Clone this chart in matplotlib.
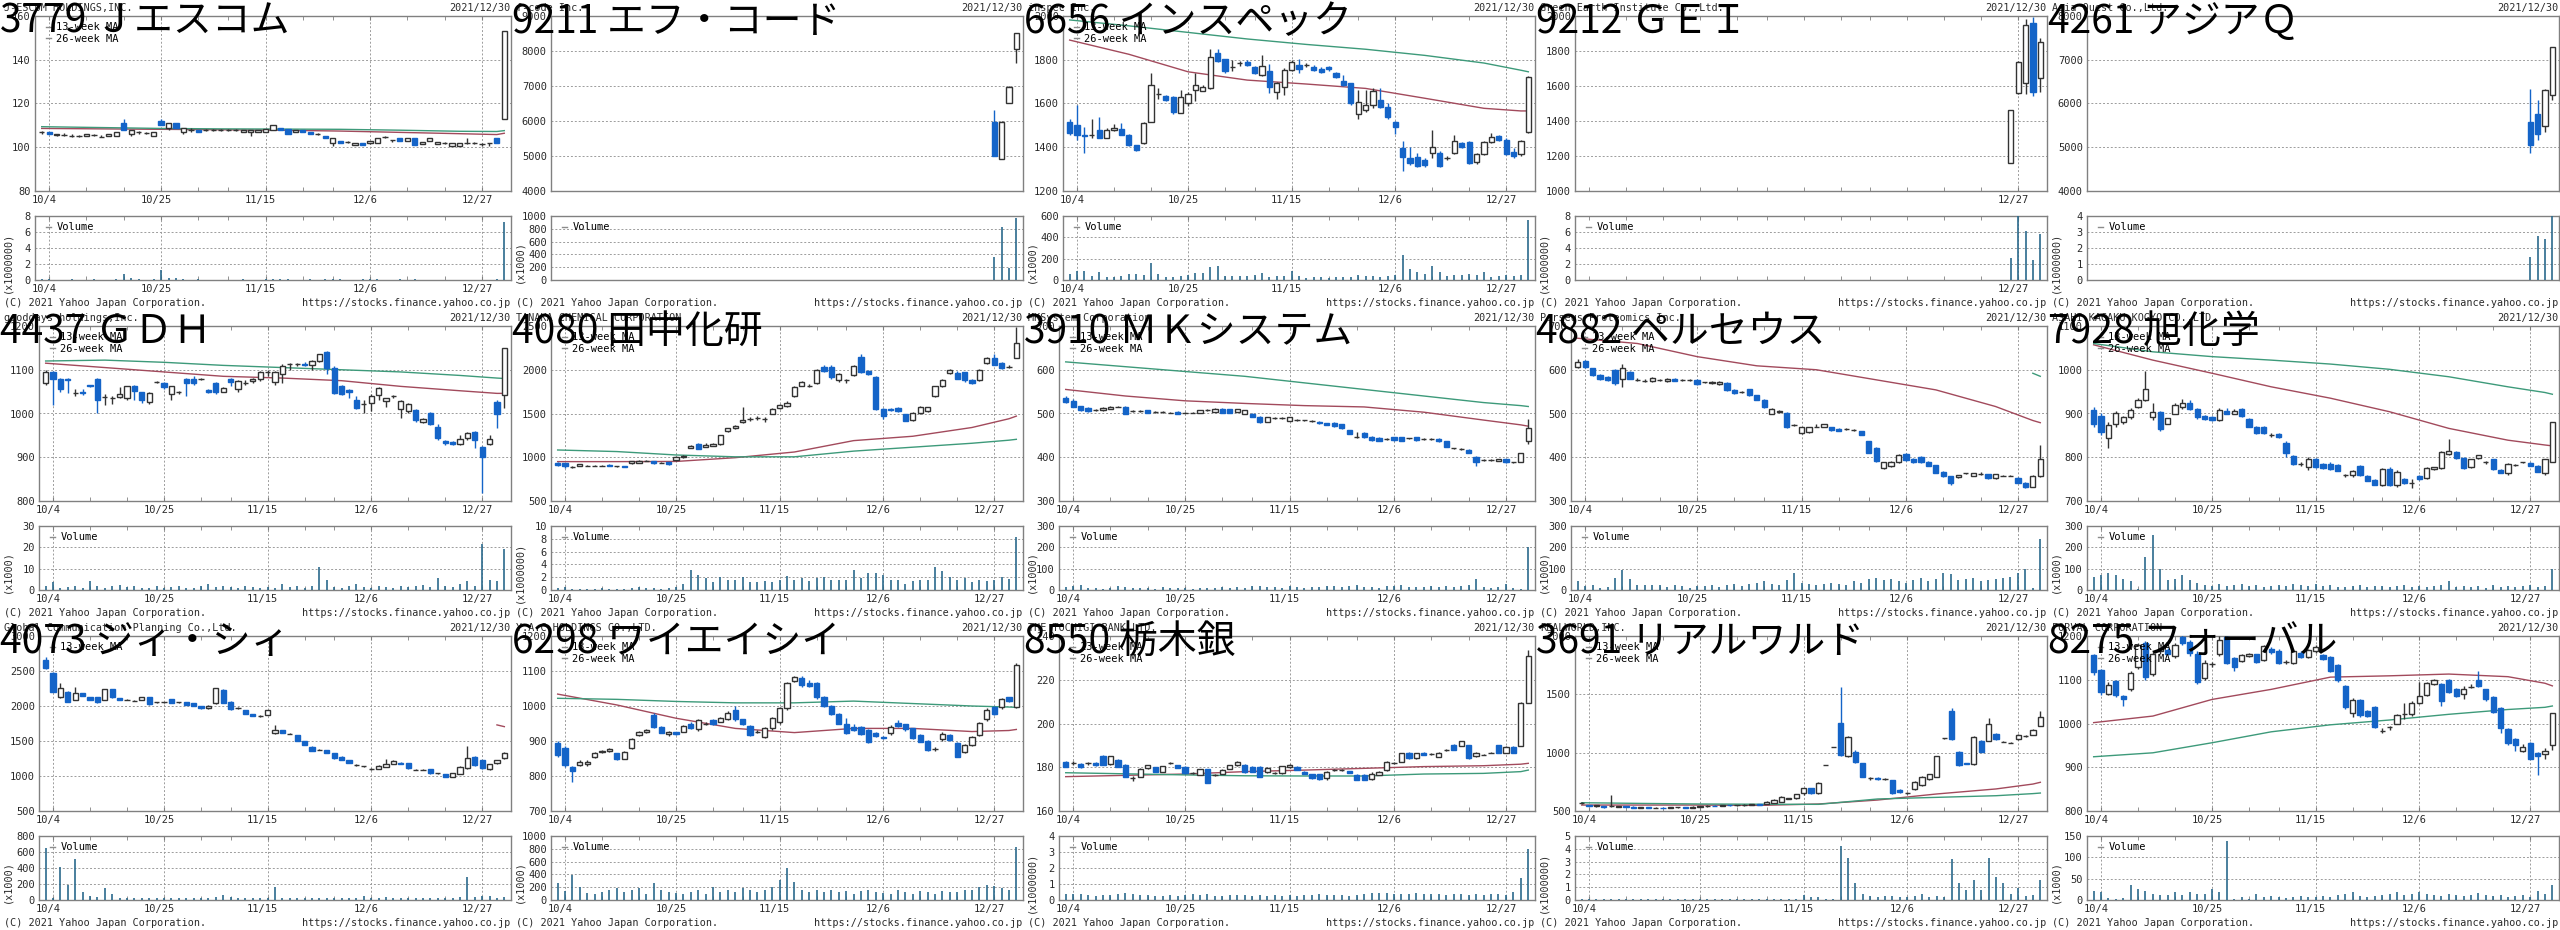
import numpy as np
import matplotlib
matplotlib.use('Agg')
import matplotlib.pyplot as plt
from matplotlib.lines import Line2D
from matplotlib.transforms import ScaledTranslation

plt.rcParams['font.family'] = ['DejaVu Sans Mono']
plt.rcParams['font.size'] = 7.3

# trading-day index: 0 = 10/1 ... 62 = 12/30
DATE_TICKS = [1, 16, 30, 44, 59]
DATE_LABELS = ['10/4', '10/25', '11/15', '12/6', '12/27']
WEEK_STARTS = [1, 6, 11, 16, 21, 25, 30, 35, 39, 44, 49, 54, 59]
MA_DAYS = [0, 8, 16, 24, 32, 40, 48, 56, 61, 62]
NAN = float('nan')

# ---- 3779 Jエスコム (o, h, l, c)
jescom = [(107,107.5,106,107),(107,107,106,106),(105.5,106,105,106),(105.5,106.5,105,105.5),(105,106,104.5,105),
    (105,105.5,104.5,105),(105,106,105,106),(105.5,106,105,105.5),(104.8,105.5,104.5,104.8),(105,106,105,106),
    (105,107,105,107),(111,113,108,108),(106,108,105,108),(107,107.5,106,107),(106.5,107,106,106.5),
    (105,107,105,107),(112,113,110,110),(109,111,108,111),(111,111,109,109),(107,109,106,109),
    (108,109,107,108),(108,108,107,107),(108,108.5,107.5,108),(108,108.5,107.5,108),(108,108.5,107.5,108),
    (108,108.5,107.5,108),(108,108.5,107.5,108),(107,108,107,108),(107,108,105,108),(107,108,107,108),
    (107,108.5,107,108.5),(108,110,108,110),(109,109,108,108),(108.5,108.5,106,106),(107,108,107,108),
    (108,108,107,107),(107,107,106,106),(106,106.5,105.5,106),(105,105,104,104),(102,104,100.6,104),
    (103,103,102,102),(102.6,103,102,102.6),(101,101.8,101,101.8),(101.8,101.8,101,101),(101.8,103,101.5,103),
    (102,104,102,104),(104.5,105,104,104.5),(103.3,103.5,102.5,103.3),(104,104,103,103),(103,104,103,104),
    (104,104,101,101),(101.3,102.6,101.3,102.6),(103,104,103,104),(101.5,102.6,101.5,102.6),(101.8,102.5,101.5,101.8),
    (100.7,101.8,100.7,101.8),(100.7,101.8,100.7,101.8),(101.8,104,101.5,101.8),(101.8,102.5,101.5,101.8),(101.3,102,100.5,101.3),
    (101.8,101.8,100.5,101.8),(104,104,102,102),(113,153,113,153)]
jescom_vol = [.1,.15,.05,.05,.1,.05,.05,.1,.05,.05, .1,.8,.2,.1,.05,.1,1.3,.3,.2,.1,
    .05,.1,.05,.05,.05,.05,.05,.1,.05,.05, .1,.15,.1,.15,.05,.05,.1,.05,.1,.15,
    .1,.05,.05,.1,.1,.1,.05,.05,.1,.05, .15,.05,.05,.05,.05,.05,.05,.05,.05,.05, .05,.1,7.3]
jescom_ma13 = [108.6,108.4,108.2,108,107.8,107.4,106.8,106.2,105.8,106.4]
jescom_ma26 = [109.4,109.0,108.6,108.4,108.3,108.2,107.8,107.3,107.2,107.6]

# ---- 9211 エフ・コード (listed 12/27)
fcode = [(5980,6310,5000,5000),(4910,6000,4900,5980),(6500,6990,6500,6980),(8050,8500,7650,8500)]
fcode_vol = [365,833,193,964]

# ---- 6656 インスペック
inspec = [(1517,1528,1458,1467),(1500,1593,1433,1458),(1455,1494,1372,1452),(1456,1530,1440,1456),(1479,1540,1440,1444),
    (1444,1490,1440,1477),(1480,1505,1475,1490),(1482,1509,1455,1458),(1456,1460,1405,1409),(1410,1412,1385,1387),
    (1418,1515,1415,1509),(1517,1740,1515,1683),(1643,1670,1620,1643),(1633,1640,1612,1616),(1631,1635,1550,1561),
    (1557,1660,1555,1631),(1601,1654,1590,1643),(1662,1740,1610,1685),(1659,1685,1655,1677),(1669,1850,1665,1814),
    (1832,1850,1790,1796),(1802,1805,1740,1750),(1768,1800,1750,1768),(1784,1795,1770,1784),(1790,1800,1770,1775),
    (1768,1770,1735,1741),(1729,1820,1725,1773),(1749,1780,1650,1677),(1654,1700,1620,1692),(1674,1760,1640,1753),
    (1753,1800,1750,1791),(1775,1805,1740,1759),(1775,1785,1765,1775),(1768,1775,1750,1753),(1758,1765,1740,1746),
    (1768,1770,1750,1756),(1741,1745,1715,1723),(1703,1730,1680,1683),(1692,1695,1595,1601),(1550,1660,1527,1608),
    (1570,1660,1560,1592),(1592,1670,1580,1657),(1616,1670,1580,1586),(1586,1600,1530,1537),(1517,1520,1460,1491),
    (1395,1430,1290,1357),(1349,1400,1320,1326),(1354,1375,1310,1314),(1342,1350,1310,1317),(1375,1478,1350,1400),
    (1372,1385,1310,1316),(1349,1360,1340,1349),(1375,1455,1370,1430),(1420,1425,1395,1400),(1425,1430,1325,1329),
    (1331,1375,1325,1369),(1369,1430,1365,1425),(1425,1465,1420,1445),(1450,1455,1430,1435),(1433,1440,1365,1368),
    (1380,1395,1350,1360),(1368,1432,1362,1430),(1471,1727,1465,1723)]
inspec_vol = [56,87,87,40,78,30,30,37,56,56, 47,162,56,30,30,37,47,62,62,118,
    134,37,37,37,37,47,62,30,37,37, 87,37,20,25,30,20,30,25,30,47,
    37,40,30,35,47,234,100,75,56,134, 78,37,47,47,56,47,78,30,37,47, 37,47,562]
inspec_ma13 = [1890,1825,1745,1707,1689,1669,1624,1578,1566,1566]
inspec_ma26 = [1982,1955,1925,1895,1870,1848,1820,1785,1752,1745]

# ---- 9212 GEI (listed 12/24)
gei = [(1158,1463,1158,1463),(1560,1740,1555,1735),(1615,1981,1554,1949),(1958,1996,1545,1566),(1644,1872,1568,1850)]
gei_vol = [2.7,9.5,6.1,2.5,5.8]

# ---- 4261 アジアQ (listed 12/27)
asiaq = [(5585,6324,4876,5052),(5752,6080,5166,5295),(5494,6330,5356,6309),(6194,7300,6080,7284)]
asiaq_vol = [1.46,2.75,2.58,4.0]

# ---- 4437 GDH
gdh = [(1070,1100,1065,1094),(1094,1098,1019,1080),(1080,1082,1050,1056),(1080,1082,1046,1076),(1048,1056,1040,1048),
    (1050,1055,1042,1046),(1065,1066,1060,1062),(1080,1082,1000,1031),(1038,1045,1020,1038),(1036,1040,1022,1036),
    (1037,1060,1035,1044),(1035,1063,1030,1063),(1064,1066,1030,1051),(1049,1050,1025,1032),(1027,1050,1022,1048),
    (1073,1075,1070,1073),(1070,1073,1055,1060),(1045,1063,1030,1063),(1049,1052,1045,1049),(1078,1080,1040,1069),
    (1078,1085,1065,1069),(1078,1080,1076,1078),(1054,1056,1046,1049),(1069,1072,1045,1050),(1050,1060,1048,1059),
    (1078,1080,1062,1073),(1057,1076,1050,1074),(1070,1076,1066,1070),(1074,1080,1070,1078),(1080,1098,1075,1094),
    (1094,1100,1085,1094),(1072,1098,1065,1094),(1090,1112,1070,1109),(1113,1116,1100,1113),(1113,1116,1108,1113),
    (1114,1118,1108,1111),(1111,1122,1100,1120),(1120,1137,1118,1135),(1140,1142,1090,1103),(1105,1108,1045,1048),
    (1064,1066,1043,1045),(1053,1056,1036,1050),(1032,1040,1010,1012),(1022,1030,1000,1022),(1025,1045,1005,1040),
    (1042,1060,1030,1058),(1029,1036,1015,1035),(1040,1042,1036,1040),(1010,1030,990,1029),(1005,1025,1000,1022),
    (1008,1010,980,985),(981,990,978,988),(1002,1004,974,976),(968,975,940,945),(938,940,928,932),
    (934,936,928,930),(930,950,928,942),(943,958,940,956),(958,960,920,939),(924,926,819,900),
    (930,950,928,941),(1027,1030,966,998),(1042,1149,1012,1149)]
gdh_vol = [2,3.9,1,1.5,2,1,4.4,2,1,2, 2.5,1.5,2,1,1,2,1,1.5,2,1,
    1,2,3,1.5,2,1.5,1,2,1.5,1, 1.5,1,3,1.5,2,1,2,11,4.7,1.5,
    1,2,3,1.5,1,2,1.5,1,2,1.5, 2,2.5,1.5,5.5,2,1.5,3,4,2,21.6, 4.7,4.4,19.2]
gdh_ma13 = [1115,1105,1095,1085,1081,1075,1062,1052,1046,1046]
gdh_ma26 = [1120,1122,1117,1110,1105,1100,1095,1087,1081,1080]

# ---- 4080 田中化研
tanaka = [(938,945,905,911),(930,932,878,895),(892,898,880,892),(900,925,895,920),(905,910,898,905),
    (905,912,900,905),(905,910,898,905),(915,918,895,900),(898,905,892,898),(900,902,885,890),
    (930,960,928,955),(940,965,938,960),(960,965,955,960),(960,962,925,930),(940,945,935,940),
    (945,950,915,920),(965,1010,960,1005),(1000,1030,995,1020),(1110,1145,1105,1125),(1150,1160,1095,1100),
    (1120,1160,1115,1140),(1130,1160,1125,1150),(1150,1260,1145,1250),(1300,1340,1290,1330),(1330,1370,1320,1360),
    (1400,1580,1390,1430),(1440,1460,1420,1440),(1450,1470,1430,1450),(1440,1460,1400,1440),(1500,1560,1490,1550),
    (1560,1610,1550,1600),(1590,1640,1580,1620),(1700,1810,1690,1800),(1820,1870,1810,1860),(1820,1840,1800,1820),
    (1850,2010,1840,2000),(2030,2050,1980,1990),(2030,2060,1900,1920),(1880,1960,1860,1950),(1880,1900,1850,1880),
    (1940,2060,1930,2040),(2150,2180,1960,1980),(1990,2000,1940,1950),(1920,1930,1540,1550),(1550,1560,1440,1470),
    (1550,1560,1530,1540),(1560,1570,1520,1530),(1490,1500,1410,1420),(1430,1520,1420,1510),(1510,1590,1500,1580),
    (1530,1580,1520,1570),(1700,1820,1690,1810),(1810,1900,1800,1880),(1960,2010,1950,2000),(1960,1990,1890,1900),
    (1970,1980,1860,1880),(1880,1890,1840,1850),(1880,2010,1870,2000),(2080,2150,2070,2140),(2140,2180,2050,2060),
    (2080,2090,2010,2020),(2030,2060,2020,2030),(2140,2490,2130,2310)]
tanaka_vol = [.3,.4,.2,.2,.2,.2,.3,.2,.2,.2, .3,.4,.3,.3,.2,.3,.5,1.0,3.1,2.3,
    1.8,1.3,2.0,1.6,1.5,2.0,1.3,1.2,1.4,1.3, 1.6,2.2,1.5,1.8,1.4,1.9,2.0,1.6,1.5,1.5,
    3.1,1.8,2.6,2.6,2.3,1.6,1.5,1.0,1.4,1.6, 1.5,3.6,2.9,2.0,1.5,1.8,1.2,1.6,1.4,1.5, 2.1,1.7,8.3]
tanaka_ma13 = [950,950,952,995,1060,1190,1240,1340,1440,1470]
tanaka_ma26 = [1083,1065,1026,1005,1005,1070,1115,1160,1195,1205]

# ---- 3910 MKシステム
mksys = [(535,540,525,527),(529,532,514,516),(517,518,506,508),(512,514,504,506),(508,510,505,508),
    (508,514,506,513),(511,516,510,515),(516,518,514,516),(516,517,498,500),(506,508,504,506),
    (506,508,504,506),(508,509,501,502),(504,506,502,504),(504,506,502,504),(502,504,500,502),
    (504,505,500,500),(502,504,500,502),(502,504,500,502),(502,509,501,508),(508,510,506,508),
    (504,512,503,511),(511,512,502,502),(510,511,502,502),(504,510,503,510),(500,508,499,508),
    (500,501,492,493),(493,494,478,481),(481,492,480,491),(489,491,487,489),(489,491,487,489),
    (483,492,482,491),(485,487,483,485),(484,486,482,484),(483,485,481,483),(481,482,477,478),
    (478,479,473,474),(479,480,470,471),(476,477,465,466),(462,463,452,453),(447,458,444,447),
    (456,457,445,446),(447,448,437,439),(445,446,436,438),(441,443,439,441),(446,447,438,439),
    (446,447,436,438),(443,445,441,443),(446,447,438,439),(442,444,440,442),(442,444,440,442),
    (442,443,435,436),(437,438,423,424),(420,422,418,420),(418,420,416,418),(417,418,409,410),
    (401,402,380,390),(394,396,392,394),(394,396,392,394),(392,396,391,395),(395,396,387,388),
    (388,390,386,388),(390,410,389,409),(436,487,430,466)]
mksys_vol = [15,20,25,10,8,5,10,20,15,8, 10,8,5,15,8,10,8,5,10,8,
    10,12,10,15,10,20,18,15,12,10, 20,15,10,12,15,18,20,12,18,22,
    15,12,10,18,20,23,15,12,15,20, 15,18,12,20,25,50,15,10,12,28, 8,3,203]
mksys_ma13 = [555,540,529,523,518,515,503,485,474,471]
mksys_ma26 = [618,607,596,585,570,555,540,525,518,516]

# ---- 4882 ペルセウス
perseus = [(607,624,604,618),(620,622,605,607),(603,605,586,588),(588,590,576,578),(584,586,575,577),
    (599,602,565,569),(580,612,561,605),(596,598,578,580),(577,580,574,577),(575,578,572,575),
    (574,583,572,582),(577,579,575,577),(575,580,573,579),(580,582,574,575),(577,579,575,577),
    (577,578,575,577),(577,578,566,567),(571,573,569,571),(569,574,568,573),(567,574,566,573),
    (570,572,552,554),(554,555,545,546),(549,551,547,549),(555,556,540,542),(542,543,530,532),
    (531,533,512,514),(500,512,498,510),(503,507,502,506),(502,504,466,468),(474,476,472,474),
    (456,470,452,468),(458,470,456,468),(470,475,468,470),(470,476,468,475),(468,469,461,462),
    (465,466,459,460),(464,466,462,464),(462,464,460,462),(460,461,450,451),(437,438,409,410),
    (422,423,388,391),(375,390,372,388),(380,392,378,390),(388,407,386,405),(407,409,392,394),
    (397,398,387,388),(401,402,387,388),(390,391,379,380),(382,383,364,365),(367,368,355,356),
    (356,357,336,340),(354,360,352,359),(363,365,361,363),(358,364,357,363),(361,366,359,361),
    (361,362,351,352),(352,362,350,361),(358,360,356,358),(358,360,356,358),(353,354,341,342),
    (342,343,330,333),(333,360,331,358),(356,428,354,395)]
perseus_vol = [44,20,25,8,15,55,94,50,23,25, 23,25,15,23,20,10,20,18,22,15,
    25,28,20,30,35,40,30,25,45,81, 35,30,25,28,35,30,25,40,35,50,
    55,45,50,40,35,45,55,40,50,78, 75,45,50,55,40,45,50,55,60,78, 100,8,237]
perseus_ma13 = [672,660,630,609,600,577,554,516,484,479]
perseus_ma26 = [NAN,NAN,NAN,NAN,NAN,NAN,NAN,NAN,592,585]

# ---- 7928 旭化学
asahi = [(908,915,870,877),(894,900,850,858),(845,880,820,874),(877,905,870,900),(880,895,875,892),
    (891,912,888,909),(916,935,912,931),(931,996,928,955),(893,925,885,904),(904,906,860,864),
    (877,890,875,889),(900,925,898,919),(914,932,910,923),(923,930,908,910),(910,912,888,891),
    (894,896,884,887),(893,895,883,885),(885,912,883,908),(906,912,898,900),(900,910,898,906),
    (910,913,892,894),(887,889,868,870),(870,872,854,856),(870,872,854,856),(850,856,846,850),
    (852,856,845,846),(833,836,800,810),(803,805,783,785),(785,790,780,785),(777,800,770,795),
    (795,798,775,777),(785,787,772,775),(785,788,770,772),(782,784,768,769),(760,762,755,760),
    (759,771,755,769),(780,782,757,759),(757,759,745,746),(748,750,736,737),(737,775,735,772),
    (772,778,734,737),(737,770,732,766),(750,752,738,740),(740,750,730,740),(757,760,748,750),
    (752,778,750,775),(772,778,770,777),(775,815,772,813),(807,842,805,815),(813,815,797,798),
    (798,800,774,775),(778,796,776,795),(798,806,796,805),(788,792,785,788),(795,797,770,772),
    (771,773,763,764),(763,786,760,784),(782,785,780,782),(788,790,786,788),(787,790,779,780),
    (780,782,766,767),(763,796,760,795),(790,881,788,881)]
asahi_vol = [62,70,78,70,50,44,5,156,258,100, 47,50,70,47,35,25,20,30,20,25,
    30,20,25,15,20,25,20,30,25,20, 30,20,25,15,15,20,25,15,20,20,
    15,20,25,15,20,15,20,25,44,15, 20,15,20,10,25,15,20,15,20,25, 15,20,100]
asahi_ma13 = [1057,1022,992,961,935,904,866,839,828,826]
asahi_ma26 = [1060,1041,1030,1022,1013,1001,984,961,948,944]

# ---- 4073 ジィ・シィ
gcp = [(2657,2700,2530,2538),(2467,2480,2200,2205),(2124,2330,2110,2252),(2205,2220,2060,2062),(2086,2276,2080,2181),
    (2181,2190,2140,2143),(2124,2130,2080,2086),(2124,2130,2050,2062),(2086,2250,2080,2238),(2238,2245,2120,2133),
    (2110,2115,2080,2086),(2086,2095,2080,2086),(2076,2090,2070,2076),(2086,2130,2080,2124),(2124,2130,2020,2028),
    (2052,2060,2045,2052),(2052,2060,2045,2052),(2095,2100,2040,2047),(2052,2060,2045,2052),(2052,2055,2015,2019),
    (2038,2040,1995,2000),(2000,2005,1960,1967),(1967,2010,1960,2000),(2038,2260,2030,2252),(2229,2240,2040,2047),
    (2062,2070,1945,1952),(1967,1980,1960,1967),(1943,1950,1880,1886),(1886,1890,1855,1857),(1857,1865,1850,1857),
    (1872,1950,1865,1943),(1610,1729,1600,1657),(1657,1660,1615,1619),(1600,1610,1595,1600),(1586,1590,1500,1505),
    (1500,1505,1440,1443),(1419,1425,1360,1362),(1371,1380,1365,1371),(1371,1375,1330,1333),(1324,1330,1250,1252),
    (1276,1280,1225,1229),(1229,1235,1180,1181),(1157,1165,1150,1157),(1143,1150,1135,1143),(1095,1120,1085,1095),
    (1105,1160,1100,1143),(1133,1250,1130,1171),(1171,1230,1165,1214),(1190,1195,1170,1171),(1181,1185,1105,1110),
    (1086,1095,1080,1086),(1086,1095,1080,1086),(1095,1100,1035,1038),(1038,1045,1030,1038),(1029,1035,990,991),
    (991,1040,985,1038),(1029,1140,1025,1133),(1110,1428,1105,1252),(1276,1280,1150,1157),(1229,1235,1100,1110),
    (1095,1175,1090,1171),(1181,1235,1175,1229),(1252,1340,1245,1333)]
gcp_vol = [646,30,408,187,517,100,50,40,150,80, 30,25,30,25,30,20,25,30,20,25,
    20,30,25,40,60,35,25,30,20,25, 20,160,30,25,20,25,30,20,25,30,
    25,20,30,45,25,30,35,25,20,30, 25,20,30,20,25,30,35,290,40,50, 45,30,40]
gcp_ma13 = [NAN,NAN,NAN,NAN,NAN,NAN,NAN,NAN,1730,1705]
gcp_ma26 = [NAN] * 10

# ---- 6298 ワイエイシイ
yac = [(895,900,855,860),(879,885,825,831),(827,830,784,815),(831,845,828,841),(834,845,830,841),
    (855,868,852,865),(869,875,866,872),(872,880,868,876),(865,867,845,848),(850,872,848,869),
    (879,910,876,907),(917,930,915,927),(927,935,924,932),(974,980,938,941),(939,942,922,924),
    (920,930,915,927),(925,927,918,920),(927,945,925,943),(950,955,934,936),(933,962,930,960),
    (950,955,945,950),(960,962,946,948),(955,970,953,965),(962,985,960,981),(990,1000,958,962),
    (962,964,946,950),(943,945,914,917),(927,932,922,927),(912,940,908,936),(936,970,932,965),
    (955,998,950,993),(993,1070,990,1065),(1072,1085,1068,1082),(1079,1085,1055,1060),(1065,1075,1055,1057),
    (1067,1070,1020,1025),(1025,1028,998,1000),(1000,1002,975,977),(977,980,948,950),(950,965,920,922),
    (941,950,930,932),(939,942,918,920),(932,935,895,898),(922,925,912,914),(912,915,905,908),
    (922,945,918,941),(952,960,940,943),(948,950,930,933),(936,938,905,908),(917,920,897,898),
    (900,902,872,874),(876,882,872,876),(905,925,900,920),(917,920,900,903),(893,897,855,855),
    (870,892,865,889),(889,915,885,912),(917,955,915,952),(962,995,958,990),(996,1000,975,977),
    (996,1022,992,1019),(1025,1027,1012,1015),(996,1122,994,1117)]
yac_vol = [260,146,390,208,115,100,120,150,180,120, 160,180,100,260,150,130,110,90,120,160,
    90,200,120,150,130,180,150,120,160,200, 312,495,286,150,120,160,130,150,120,140,
    100,140,160,120,110,100,150,120,100,140, 120,100,140,120,130,150,160,200,240,220, 180,160,833]
yac_ma13 = [1034,1003,965,936,924,936,936,927,930,933]
yac_ma26 = [1022,1019,1013,1009,1009,1014,1007,1000,997,996]

# ---- 8550 栃木銀
tochigi = [(182.6,183,180,180.3),(182,183,181,182),(181.5,182,179.8,180),(182,182.5,181,182),(182,182.6,180.8,181),
    (185,185.5,181,181),(181.5,185.2,181,185),(183.3,184,180,180.3),(181,181.5,175.5,175.7),(175,176,173.9,175),
    (175.7,179.5,175.5,179.1),(179.5,181.2,179.3,181),(180,180.3,178,178),(178,180.8,177.8,180.6),(181.8,182.5,181.3,181.8),
    (181,181.2,179.5,179.5),(180.3,180.5,177,177.2),(177.2,178,176.8,177.2),(176.5,179.3,176.3,179.1),(179.1,179.3,173,173),
    (176.5,177,176,176.5),(177,179,176.8,178.7),(179.1,181.2,179,181),(181,183,180.8,182.6),(181,181.3,177.5,177.7),
    (180.3,180.5,178,178),(180.3,180.6,175.5,175.7),(177.7,180,177.5,179.8),(177.2,178,176.8,177.2),(177.2,180.8,177,180.6),
    (180,181.5,179.8,181.0),(180.3,180.5,178.7,178.7),(178,178.2,176.9,176.9),(176.9,177,174.8,174.9),(176.9,177.1,174.4,174.5),
    (174.9,178.2,174,178),(178.7,179.2,178.5,178.7),(178.7,179.2,178.5,178.7),(178.4,178.5,177.2,177.2),(176.5,176.7,174.2,174.2),
    (176.5,176.7,174.2,174.2),(174.5,178,174.3,176.9),(176.5,178.2,176.3,178),(178.7,182.8,178.5,182.6),(181.8,182.3,181.5,181.8),
    (182.6,186.6,182.4,186.4),(186.7,187,184,184.1),(184.1,186.6,184,186.4),(186.7,187,185.6,185.7),(186.1,186.5,185.8,186.1),
    (184.8,186.8,184.6,186.7),(187.9,188.2,187.6,187.9),(190.2,190.5,187.8,187.9),(189.7,192.2,189.5,192),(190.2,190.4,184,184.1),
    (185.1,186.8,184.9,186.7),(185.6,186,185.4,185.6),(186.7,187,186.5,186.7),(190.2,190.4,186.5,186.7),(186.7,189.6,186.5,189.4),
    (189.4,189.6,186.5,186.7),(189.7,210,189.5,209.5),(209.5,233.6,209.3,230.9)]
tochigi_vol = [.4,.35,.35,.3,.25,.3,.3,.35,.45,.4, .3,.3,.25,.25,.3,.25,.3,.35,.3,.35,
    .25,.25,.3,.3,.3,.25,.3,.25,.3,.25, .3,.25,.3,.3,.35,.3,.3,.3,.25,.3,
    .35,.45,.45,.45,.4,.4,.35,.45,.4,.35, .35,.3,.35,.35,.3,.35,.3,.35,.4,.3, .5,1.35,3.2]
tochigi_ma13 = [175.7,176.3,176.9,178,178.7,179.5,180.3,180.7,181.4,181.8]
tochigi_ma26 = [177.5,177.0,176.5,176.1,176,176,176.9,177.2,178.0,178.7]

# ---- 3691 リアルワルド
realworld = [(566,580,560,566),(551,555,540,543),(543,550,538,548),(540,545,530,535),(540,637,535,540),
    (537,545,532,540),(540,545,535,537),(537,542,525,528),(528,535,525,532),(532,536,528,530),
    (530,535,526,530),(530,534,524,526),(526,534,524,532),(532,536,528,532),(534,536,525,527),
    (527,540,525,538),(538,545,535,540),(540,548,537,545),(545,550,540,543),(543,552,540,550),
    (550,555,545,548),(548,552,544,550),(550,556,546,552),(552,560,548,556),(556,560,550,553),
    (560,585,558,580),(570,600,565,595),(580,625,575,623),(605,615,600,610),(609,645,605,643),
    (651,700,640,694),(694,700,645,651),(651,750,645,743),(894,894,894,894),(1051,1051,1051,1051),
    (1251,1566,975,980),(971,1140,960,1131),(1009,1020,915,923),(908,915,790,794),(780,790,770,780),
    (780,790,765,775),(775,785,765,775),(766,770,645,651),(680,690,655,660),(657,665,650,657),
    (686,755,680,751),(723,800,718,794),(771,820,765,817),(794,975,790,971),(1123,1125,1120,1123),
    (1360,1380,1110,1114),(1009,1015,890,894),(909,915,900,905),(903,1140,895,1137),(1103,1110,1005,1009),
    (1103,1300,1100,1246),(1160,1165,1110,1114),(1094,1100,1088,1094),(1086,1090,1080,1086),(1114,1160,1110,1151),
    (1143,1148,1138,1143),(1151,1200,1148,1194),(1229,1360,1225,1303)]
realworld_vol = [.08,.05,.05,.05,.1,.05,.05,.05,.05,.05, .05,.05,.05,.05,.05,.05,.05,.05,.05,.05,
    .05,.05,.05,.05,.05,.08,.1,.1,.05,.1, .4,.2,.25,.05,.05,4.2,3.3,1.3,.5,.3,
    .25,.3,.3,.2,.25,.3,.5,.2,.3,.25, 3.2,1.3,.8,1.6,.8,3.3,1.8,1.3,.5,.9, .3,.4,1.6]
realworld_ma13 = [551,551,551,548,560,594,646,689,731,746]
realworld_ma26 = [571,565,560,558,557,603,617,631,649,654]

# ---- 8275 フォーバル
forval = [(1156,1160,1110,1118),(1122,1125,1065,1073),(1067,1095,1065,1088),(1097,1100,1060,1065),(1063,1065,1040,1056),
    (1080,1120,1075,1115),(1130,1185,1125,1179),(1183,1188,1100,1107),(1113,1165,1108,1160),(1165,1175,1160,1170),
    (1168,1172,1158,1160),(1154,1185,1150,1179),(1198,1202,1180,1183),(1187,1190,1155,1162),(1160,1165,1090,1096),
    (1103,1145,1100,1139),(1136,1140,1130,1136),(1159,1200,1155,1191),(1198,1200,1135,1138),(1149,1152,1120,1130),
    (1143,1160,1140,1156),(1155,1162,1152,1158),(1158,1160,1138,1141),(1145,1180,1142,1177),(1170,1175,1160,1163),
    (1166,1170,1135,1138),(1140,1145,1135,1140),(1138,1170,1135,1166),(1162,1165,1150,1153),(1153,1170,1150,1168),
    (1165,1180,1162,1175),(1156,1160,1146,1148),(1151,1155,1118,1121),(1134,1136,1094,1099),(1086,1088,1033,1037),
    (1025,1058,1015,1054),(1054,1056,1015,1019),(1029,1031,1015,1017),(1037,1039,990,993),(984,990,978,984),
    (991,995,985,991),(1000,1022,998,1019),(1022,1048,1010,1022),(1022,1052,1018,1048),(1048,1095,1045,1063),
    (1065,1096,1062,1093),(1091,1102,1088,1099),(1090,1093,1040,1052),(1099,1102,1070,1073),(1080,1082,1060,1063),
    (1067,1085,1055,1080),(1084,1090,1082,1084),(1099,1119,1084,1086),(1078,1080,1052,1057),(1061,1063,1025,1027),
    (1035,1037,979,989),(987,989,952,955),(964,966,938,951),(938,953,935,947),(955,958,918,920),
    (933,935,882,926),(930,944,920,937),(951,1025,940,1023)]
forval_vol = [20,18,5,3,5,35,25,22,15,12, 12,18,12,18,15,15,25,18,138,3,
    8,3,14,8,10,8,5,8,10,8, 8,10,8,12,15,18,10,8,10,12,
    15,18,12,15,18,15,12,10,15,12, 10,12,17,12,10,12,8,10,12,8, 20,14,35]
forval_ma13 = [1002,1017,1055,1078,1106,1109,1113,1107,1092,1086]
forval_ma26 = [924,933,956,981,997,1008,1021,1032,1037,1040]

UP_EDGE = '#333333'
DOWN = '#1464c8'
MA13_C = '#a24a5c'
MA26_C = '#3d9a7a'
VOL_C = '#2b6a8c'
GRID_C = '#9c9c9c'
SPINE_C = '#808080'
TXT_C = '#2a2a2a'

W, H = 2560, 930
fig = plt.figure(figsize=(25.6, 9.3), dpi=100)
fig.patch.set_facecolor('white')


def fx(px):
    return px / W


def fy(py):
    return 1 - py / H


def style_axes(a, dates):
    a.set_xlim(-0.9, 62.9)
    for s in a.spines.values():
        s.set_color(SPINE_C)
        s.set_linewidth(1)
    a.set_axisbelow(True)
    a.grid(True, color=GRID_C, ls=(0, (2, 2)), lw=0.7)
    if dates:
        a.set_xticks([DATE_TICKS[DATE_LABELS.index(d)] for d in dates])
        a.set_xticklabels(dates)
        a.set_xticks(WEEK_STARTS, minor=True)
    else:
        a.set_xticks([])
    a.tick_params(axis='x', which='both', direction='in', length=3, top=True, bottom=True,
                  color=SPINE_C, labelcolor=TXT_C, labelsize=7.5, pad=3)
    a.tick_params(axis='y', length=0, labelcolor=TXT_C, labelsize=7.5, pad=3)
    shift = ScaledTranslation(-5 / 100, 0, fig.dpi_scale_trans)
    for lab in a.get_xticklabels():
        lab.set_transform(lab.get_transform() + shift)


def draw_panel(col, row, title, company, ohlc, vol, start, ma13, ma26, cfg):
    x0, y0 = col * 512, row * 310
    left = x0 + cfg['left']
    width = (x0 + 511 - left) / W
    ax = fig.add_axes([fx(left), fy(y0 + 191), width, 175 / H])
    vx = fig.add_axes([fx(left), fy(y0 + 280), width, 64 / H])

    o, h, l, c = np.array(ohlc, dtype=float).T
    days = np.arange(start, start + len(o))
    up = c >= o
    edge = np.where(up, UP_EDGE, DOWN)
    face = np.where(up, 'white', DOWN)
    ax.vlines(days, l, h, colors=edge, lw=1, zorder=3)
    ax.bar(days, np.abs(c - o), bottom=np.minimum(o, c), width=0.7,
           color=face, edgecolor=edge, lw=1, zorder=4)

    handles, labels = [], []
    if ma13 is not None:
        ax.plot(MA_DAYS, ma13, color=MA13_C, lw=1, zorder=2)
        ax.plot(MA_DAYS, ma26, color=MA26_C, lw=1, zorder=2)
        for name in cfg['legend']:
            handles.append(Line2D([], [], color='#8c8c8c', lw=1))
            labels.append(name)
    if handles:
        ax.legend(handles, labels, loc='upper left', frameon=False, fontsize=7.5,
                  handlelength=0.5, handletextpad=0.5, labelspacing=0.15,
                  borderaxespad=0.2, bbox_to_anchor=(0.01, 1.0))

    ax.set_ylim(*cfg['ylim'])
    ax.set_yticks(cfg['yticks'])
    style_axes(ax, cfg['dates'])

    vdays = np.arange(start, start + len(vol))
    vx.vlines(vdays, 0, vol, colors=VOL_C, lw=1.2, zorder=3)
    vx.set_ylim(*cfg['vlim'])
    vx.set_yticks(cfg['vticks'])
    style_axes(vx, cfg['dates'])
    vx.legend([Line2D([], [], color='#8c8c8c', lw=1)], ['Volume'], loc='upper left',
              frameon=False, fontsize=7.5, handlelength=0.5, handletextpad=0.5,
              borderaxespad=0.2, bbox_to_anchor=(0.01, 1.0))

    fig.text(fx(x0 + 7), fy(y0 + 262), cfg['unit'], rotation=90, ha='center', va='center',
             fontsize=7.3, color=TXT_C)
    fig.text(fx(x0 + 4), fy(y0 + 8), company, ha='left', va='center', fontsize=7.3, color=TXT_C)
    fig.text(fx(x0 + 510), fy(y0 + 8), '2021/12/30', ha='right', va='center', fontsize=7.3, color=TXT_C)
    fig.text(fx(x0 + 4), fy(y0 + 303), '(C) 2021 Yahoo Japan Corporation.', ha='left', va='center',
             fontsize=7.3, color=TXT_C)
    fig.text(fx(x0 + 510), fy(y0 + 303), 'https://stocks.finance.yahoo.co.jp', ha='right', va='center',
             fontsize=7.3, color=TXT_C)
    fig.text(fx(x0), fy(y0 + 33), title, ha='left', va='baseline', fontsize=28, color='black',
             family=['Noto Sans CJK JP', 'DejaVu Sans'], zorder=10)


ALL = DATE_LABELS
BOTH = ['13-week MA', '26-week MA']
M6, K3 = '(x1000000)', '(x1000)'

panels = [
    (0, 0, '3779 Ｊエスコム', 'J-ESCOM HOLDINGS,INC.', jescom, jescom_vol, 0, jescom_ma13, jescom_ma26,
     dict(left=35, ylim=(80, 160), yticks=range(80, 161, 20), vlim=(0, 8), vticks=range(0, 9, 2), unit=M6, dates=ALL, legend=BOTH)),
    (1, 0, '9211 エフ・コード', 'f-code Inc.', fcode, fcode_vol, 59, None, None,
     dict(left=39, ylim=(4000, 9000), yticks=range(4000, 9001, 1000), vlim=(0, 1000), vticks=range(0, 1001, 200), unit=K3, dates=[], legend=[])),
    (2, 0, '6656 インスペック', 'inspec Inc.', inspec, inspec_vol, 0, inspec_ma13, inspec_ma26,
     dict(left=39, ylim=(1200, 2000), yticks=range(1200, 2001, 200), vlim=(0, 600), vticks=range(0, 601, 200), unit=K3, dates=ALL, legend=BOTH)),
    (3, 0, '9212 ＧＥＩ', 'Green Earth Institute Co.,Ltd.', gei, gei_vol, 58, None, None,
     dict(left=39, ylim=(1000, 2000), yticks=range(1000, 2001, 200), vlim=(0, 8), vticks=range(0, 9, 2), unit=M6, dates=['12/27'], legend=[])),
    (4, 0, '4261 アジアＱ', 'Asia Quest Co.,Ltd.', asiaq, asiaq_vol, 59, None, None,
     dict(left=39, ylim=(4000, 8000), yticks=range(4000, 8001, 1000), vlim=(0, 4), vticks=range(0, 5), unit=M6, dates=[], legend=[])),
    (0, 1, '4437 ＧＤＨ', 'gooddays holdings,Inc.', gdh, gdh_vol, 0, gdh_ma13, gdh_ma26,
     dict(left=39, ylim=(800, 1200), yticks=range(800, 1201, 100), vlim=(0, 30), vticks=range(0, 31, 10), unit=K3, dates=ALL, legend=BOTH)),
    (1, 1, '4080 田中化研', 'TANAKA CHEMICAL CORPORATION', tanaka, tanaka_vol, 0, tanaka_ma13, tanaka_ma26,
     dict(left=39, ylim=(500, 2500), yticks=range(500, 2501, 500), vlim=(0, 10), vticks=range(0, 11, 2), unit=M6, dates=ALL, legend=BOTH)),
    (2, 1, '3910 ＭＫシステム', 'MKSystem Corporation', mksys, mksys_vol, 0, mksys_ma13, mksys_ma26,
     dict(left=35, ylim=(300, 700), yticks=range(300, 701, 100), vlim=(0, 300), vticks=range(0, 301, 100), unit=K3, dates=ALL, legend=BOTH)),
    (3, 1, '4882 ペルセウス', 'Perseus Proteomics Inc.', perseus, perseus_vol, 0, perseus_ma13, perseus_ma26,
     dict(left=35, ylim=(300, 700), yticks=range(300, 701, 100), vlim=(0, 300), vticks=range(0, 301, 100), unit=K3, dates=ALL, legend=BOTH)),
    (4, 1, '7928 旭化学', 'ASAHI KAGAKU KOGYO CO.,LTD.', asahi, asahi_vol, 0, asahi_ma13, asahi_ma26,
     dict(left=39, ylim=(700, 1100), yticks=range(700, 1101, 100), vlim=(0, 300), vticks=range(0, 301, 100), unit=K3, dates=ALL, legend=BOTH)),
    (0, 2, '4073 ジィ・シィ', 'Global Communication Planning Co.,Ltd.', gcp, gcp_vol, 0, gcp_ma13, gcp_ma26,
     dict(left=39, ylim=(500, 3000), yticks=range(500, 3001, 500), vlim=(0, 800), vticks=range(0, 801, 200), unit=K3, dates=ALL, legend=['13-week MA'])),
    (1, 2, '6298 ワイエイシイ', 'Y.A.C.HOLDINGS CO.,LTD.', yac, yac_vol, 0, yac_ma13, yac_ma26,
     dict(left=39, ylim=(700, 1200), yticks=range(700, 1201, 100), vlim=(0, 1000), vticks=range(0, 1001, 200), unit=K3, dates=ALL, legend=BOTH)),
    (2, 2, '8550 栃木銀', 'THE TOCHIGI BANK,LTD.', tochigi, tochigi_vol, 0, tochigi_ma13, tochigi_ma26,
     dict(left=35, ylim=(160, 240), yticks=range(160, 241, 20), vlim=(0, 4), vticks=range(0, 5), unit=M6, dates=ALL, legend=BOTH)),
    (3, 2, '3691 リアルワルド', 'REALWORLD,INC.', realworld, realworld_vol, 0, realworld_ma13, realworld_ma26,
     dict(left=39, ylim=(500, 2000), yticks=range(500, 2001, 500), vlim=(0, 5), vticks=range(0, 6), unit=M6, dates=ALL, legend=BOTH)),
    (4, 2, '8275 フォーバル', 'FORVAL CORPORATION', forval, forval_vol, 0, forval_ma13, forval_ma26,
     dict(left=39, ylim=(800, 1200), yticks=range(800, 1201, 100), vlim=(0, 150), vticks=range(0, 151, 50), unit=K3, dates=ALL, legend=BOTH)),
]

for p in panels:
    draw_panel(*p)

fig.savefig('out.png', dpi=100, facecolor='white')
